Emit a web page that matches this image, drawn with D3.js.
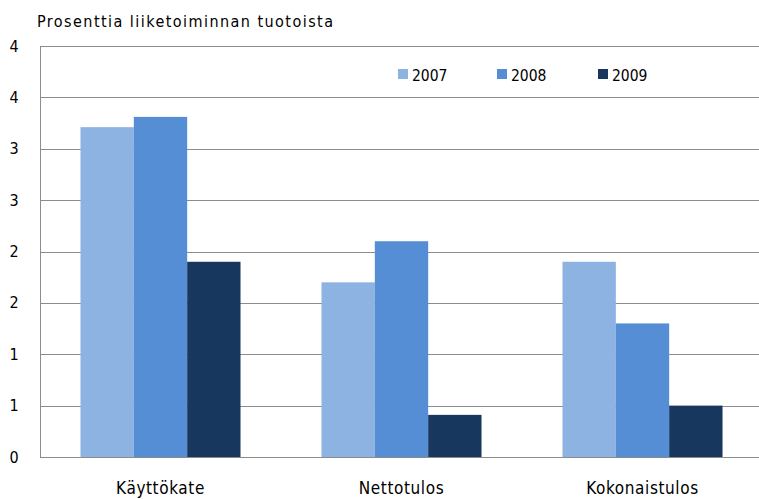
<!DOCTYPE html>
<html><head><meta charset="utf-8">
<script src="https://cdn.jsdelivr.net/npm/d3@7"></script>
<style>body{margin:0;background:#fff}svg{display:block}</style>
</head><body>
<svg id="c" width="759" height="499"></svg>
<script>
const categories = ["Käyttökate", "Nettotulos", "Kokonaistulos"];
const seriesNames = ["2007", "2008", "2009"];
const values2007 = [3.21, 1.70, 1.90];
const values2008 = [3.31, 2.10, 1.30];
const values2009 = [1.90, 0.41, 0.50];
const tickValues = [0, 0.5, 1, 1.5, 2, 2.5, 3, 3.5, 4];
const tickLabels = ["0", "1", "1", "2", "2", "3", "3", "4", "4"];
const colors = ["#8DB3E2", "#558ED5", "#17375E"];
const title = "Prosenttia liiketoiminnan tuotoista";

const seriesValues = [values2007, values2008, values2009];
const svg = d3.select("#c");
const font = "'DejaVu Sans Condensed','Liberation Sans Narrow','Open Sans',sans-serif";

const x0 = d3.scaleBand().domain(categories).range([40, 763]).paddingInner(0.336).paddingOuter(0.168);
const x1 = d3.scaleBand().domain(seriesNames).range([0, x0.bandwidth()]).padding(0);
const y = d3.scaleLinear().domain([0, 4]).range([457, 46]);

// gridlines
svg.append("g").selectAll("line").data(tickValues).join("line")
  .attr("x1", 40).attr("x2", 759)
  .attr("y1", d => Math.round(y(d)) + 0.5).attr("y2", d => Math.round(y(d)) + 0.5)
  .attr("stroke", "#8c8c8c").attr("stroke-width", 1);
// y axis line
svg.append("line").attr("x1", 40.5).attr("x2", 40.5).attr("y1", y(4)).attr("y2", y(0) + 0.5)
  .attr("stroke", "#8c8c8c");

// tick labels
svg.append("g").selectAll("text").data(tickValues).join("text")
  .attr("x", 14).attr("y", d => y(d)).attr("dy", "0.35em")
  .attr("text-anchor", "middle").attr("font-family", font).attr("font-size", 16).attr("fill", "#000")
  .text((d, i) => tickLabels[i]);

// bars
const g = svg.append("g").selectAll("g").data(categories).join("g")
  .attr("transform", c => `translate(${x0(c)},0)`);
g.selectAll("rect").data((c, ci) => seriesNames.map((s, si) => ({s, si, v: seriesValues[si][ci]}))).join("rect")
  .attr("x", d => x1(d.s)).attr("width", x1.bandwidth())
  .attr("y", d => y(d.v)).attr("height", d => y(0) - y(d.v))
  .attr("fill", d => colors[d.si]);

// category labels
svg.append("g").selectAll("text").data(categories).join("text")
  .attr("x", c => x0(c) + x0.bandwidth() / 2).attr("y", 494)
  .attr("text-anchor", "middle").attr("font-family", font).attr("font-size", 17)
  .attr("letter-spacing", 0.6).attr("fill", "#000")
  .text(c => c);

// title
svg.append("text").attr("x", 37).attr("y", 27).attr("font-family", font).attr("font-size", 16)
  .attr("textLength", 296).attr("lengthAdjust", "spacing")
  .attr("fill", "#000").text(title);

// legend
const legendX = [398, 497, 598];
const lg = svg.append("g").selectAll("g").data(seriesNames).join("g")
  .attr("transform", (d, i) => `translate(${legendX[i]},69)`);
lg.append("rect").attr("width", 10).attr("height", 10).attr("fill", (d, i) => colors[i]);
lg.append("text").attr("x", 14).attr("y", 11.5).attr("font-family", font).attr("font-size", 15.5)
  .attr("fill", "#000").text(d => d);
</script>
</body></html>
